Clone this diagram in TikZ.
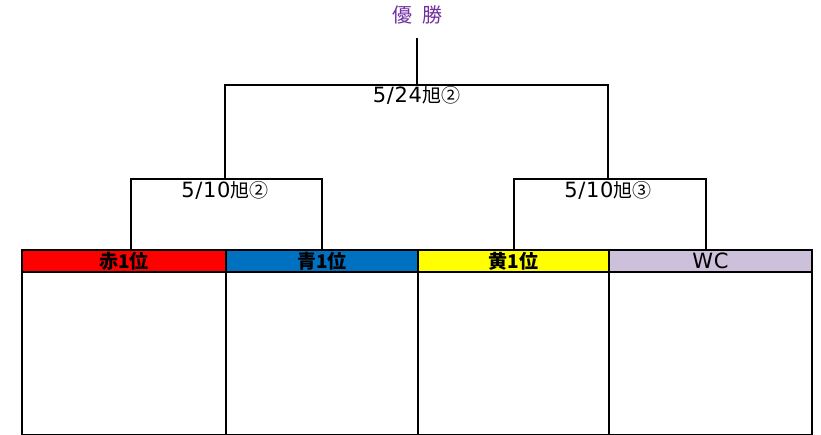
\documentclass[tikz,border=0pt]{standalone}
\usepackage{fontspec}
\setmainfont{Noto Sans CJK JP}
\newfontfamily\numfont{DejaVu Sans}[LetterSpace=3]
\usetikzlibrary{positioning}
\definecolor{teamred}{RGB}{255,0,0}
\definecolor{teamblue}{RGB}{0,112,192}
\definecolor{teamyellow}{RGB}{255,255,0}
\definecolor{teamwc}{RGB}{204,192,218}
\definecolor{champ}{RGB}{112,48,160}
\newcommand{\num}[1]{{\numfont\mdseries\fontsize{21}{21}\selectfont #1}}
\tikzset{
    team/.style={
           rectangle,
           draw=black, line width=2pt,
           minimum height=22pt,
           inner sep=0pt,
           anchor=north west,
           font=\fontsize{19}{19}\selectfont\bfseries
           },
    slot/.style={
           rectangle,
           draw=black, line width=2pt,
           minimum height=163pt,
           inner sep=0pt,
           anchor=north west
           },
    match/.style={
           anchor=base,
           inner sep=0pt,
           font=\fontsize{19}{19}\selectfont
           },
    bracket/.style={draw=black, line width=2pt},
}
\begin{document}
\begin{tikzpicture}[x=1pt,y=-1pt]
            \useasboundingbox (0,0) rectangle (821,435);

             % team headers
             \node[team, fill=teamred, minimum width=204pt] (RED) at (21,249) {赤1位};
             \node[team, fill=teamblue, minimum width=192pt] (BLUE) at (225,249) {青1位};
             \node[team, fill=teamyellow, minimum width=191pt] (YELLOW) at (417,249) {黄1位};
             \node[team, fill=teamwc, minimum width=203pt] (WC) at (608,249) {\num{WC}};

             % empty boxes below
             \node[slot, minimum width=204pt] (REDBOX) at (21,271) {};
             \node[slot, minimum width=192pt] (BLUEBOX) at (225,271) {};
             \node[slot, minimum width=191pt] (YELLOWBOX) at (417,271) {};
             \node[slot, minimum width=203pt] (WCBOX) at (608,271) {};
             \draw[gray!50, line width=1pt] (REDBOX.south west) -- (WCBOX.south east);

             % matches
             \coordinate (SEMI1) at (225,179);
             \coordinate (SEMI2) at (608,179);
             \coordinate (FINAL) at (416.5,85);

             \node[font=\fontsize{20}{20}\selectfont, text=champ, anchor=base] (CHAMP) at (417,23) {優\hspace{0.5em}勝};

             \path[bracket]
             ([xshift=7pt]RED.north) |- (SEMI1) -| (BLUE.north)
             (YELLOW.north) |- (SEMI2) -| ([xshift=-5pt]WC.north)
             (SEMI1) |- (FINAL) -| (SEMI2)
             (FINAL) -- ([yshift=-10pt]FINAL |- CHAMP.south);

             \node[match] (SEMI1LABEL) at ([yshift=-19pt]SEMI1) {\num{5/10}旭②};
             \node[match] (SEMI2LABEL) at ([yshift=-19pt]SEMI2) {\num{5/10}旭③};
             \node[match] (FINALLABEL) at ([yshift=-18pt]FINAL) {\num{5/24}旭②};

        \end{tikzpicture}
\end{document}
